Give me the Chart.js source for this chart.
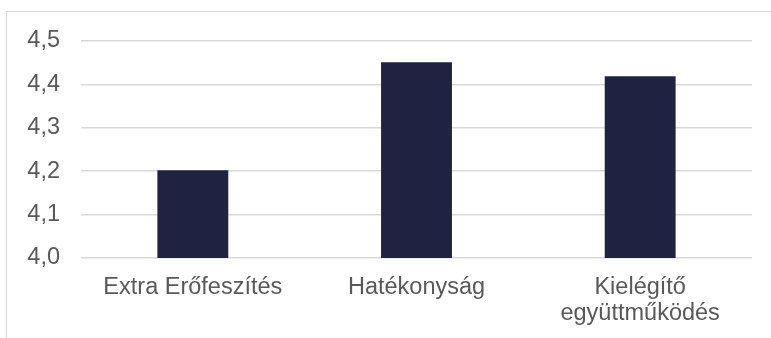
<!DOCTYPE html>
<html>
<head>
<meta charset="utf-8">
<script src="https://cdn.jsdelivr.net/npm/chart.js@4"></script>
<style>
  html, body { margin: 0; padding: 0; background: #fff; }
  #wrap { position: relative; width: 771px; height: 338px; overflow: hidden; }
  #frame { position: absolute; left: 6px; top: 11px; width: 800px; height: 400px;
           border-top: 1px solid #d9d9d9; border-left: 1px solid #d9d9d9; }
  canvas { position: absolute; left: 0; top: 0; }
</style>
</head>
<body>
<div id="wrap">
  <div id="frame"></div>
  <canvas id="barChart" width="771" height="338"></canvas>
</div>
<script>
// Átlagpontszámok dimenziónként
const categories = ['Extra Erőfeszítés', 'Hatékonyság', ['Kielégítő', 'együttműködés']];
const scores = [4.202, 4.451, 4.419];
const yMin = 4.0, yMax = 4.5, yStep = 0.1;

const textColor = '#595959';
const gridColor = '#d9d9d9';
const labelFont = 'Liberation Sans, Arial';

const ctx = document.getElementById('barChart').getContext('2d');
const barChart = new Chart(ctx, {
    type: 'bar',
    data: {
        labels: categories,
        datasets: [{
            data: scores,
            backgroundColor: '#1f2341',
            categoryPercentage: 1,
            barPercentage: 0.317
        }]
    },
    options: {
        responsive: false,
        animation: false,
        layout: { padding: { top: 41, right: 19, left: 0, bottom: 0 } },
        plugins: { legend: { display: false }, tooltip: { enabled: false } },
        scales: {
            x: {
                grid: { display: false, drawTicks: false },
                border: { display: false },
                ticks: {
                    color: textColor,
                    font: { family: labelFont, size: 23.5, lineHeight: 1.11 },
                    padding: 16,
                    maxRotation: 0,
                    autoSkip: false
                },
                afterFit: (s) => { s.height = 80; }
            },
            y: {
                min: yMin,
                max: yMax,
                grid: { color: gridColor, lineWidth: 1.5, drawTicks: false },
                border: { display: false },
                ticks: {
                    stepSize: yStep,
                    color: textColor,
                    font: { family: labelFont, size: 23.5 },
                    padding: 21,
                    callback: (v) => v.toFixed(1).replace('.', ',')
                },
                afterFit: (s) => { s.width = 81; }
            }
        }
    }
});
</script>
</body>
</html>
